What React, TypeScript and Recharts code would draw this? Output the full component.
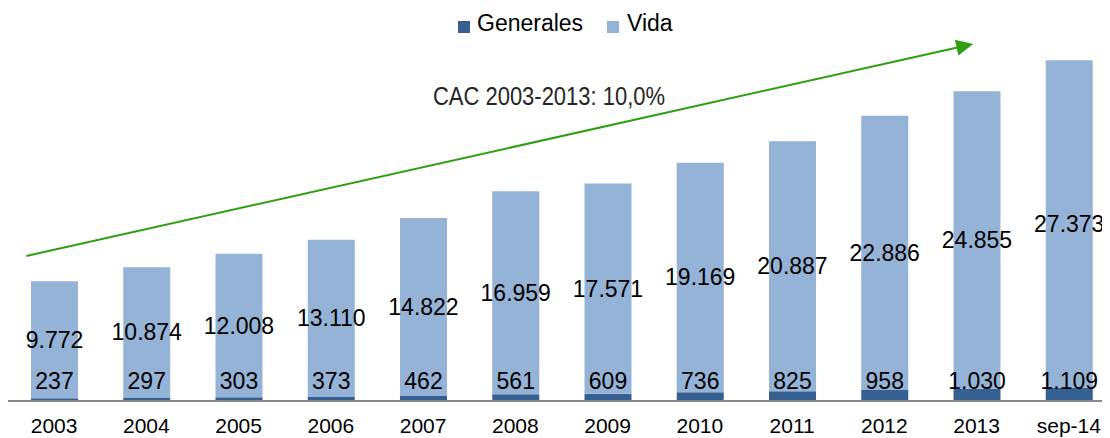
import React from "react";
import { BarChart, Bar, XAxis, YAxis, LabelList, ReferenceLine } from "recharts";

const categories = ["2003", "2004", "2005", "2006", "2007", "2008", "2009", "2010", "2011", "2012", "2013", "sep-14"];
const generales = [237, 297, 303, 373, 462, 561, 609, 736, 825, 958, 1030, 1109];
const vida = [9772, 10874, 12008, 13110, 14822, 16959, 17571, 19169, 20887, 22886, 24855, 27373];
const trendStart = { x: "2003", y: 12640 };
const trendEnd = { x: "2013", y: 29900 };
const cacLabel = "CAC 2003-2013: 10,0%";

const data = categories.map((c, i) => ({ name: c, generales: generales[i], vida: vida[i] }));

const fmt = (v: number) => String(v).replace(/\B(?=(\d{3})+(?!\d))/g, ".");

const COLOR_GEN = "#376092";
const COLOR_VIDA = "#95B3D7";
const GREEN = "#2E9E12";
const FONT = "'Liberation Sans', Arial, sans-serif";

const GenLabel = (props: any) => {
  const { x, y, width, height, value } = props;
  return (
    <text x={x + width / 2} y={y + height - 20} textAnchor="middle" dominantBaseline="central" fontSize={23} fontFamily={FONT} fill="#000">
      {fmt(value)}
    </text>
  );
};

const VidaLabel = (props: any) => {
  const { x, y, width, height, value } = props;
  return (
    <text x={x + width / 2} y={y + height / 2} textAnchor="middle" dominantBaseline="central" fontSize={23} fontFamily={FONT} fill="#000">
      {fmt(value)}
    </text>
  );
};

const ArrowShape = (props: any) => {
  const { x1, y1, x2, y2 } = props;
  if ([x1, y1, x2, y2].some((v) => typeof v !== "number" || isNaN(v))) return null;
  const dx = x2 - x1;
  const dy = y2 - y1;
  const len = Math.sqrt(dx * dx + dy * dy);
  const ux = dx / len;
  const uy = dy / len;
  const ext = 28.5;
  const sx = x1 - ux * ext;
  const sy = y1 - uy * ext;
  const tipX = x2 - ux * 3.5;
  const tipY = y2 - uy * 3.5;
  const headLen = 17;
  const headW = 8;
  const bx = tipX - ux * headLen;
  const by = tipY - uy * headLen;
  const px = -uy;
  const py = ux;
  return (
    <g>
      <line x1={sx} y1={sy} x2={bx + ux * 2} y2={by + uy * 2} stroke={GREEN} strokeWidth={2} />
      <polygon
        points={`${tipX},${tipY} ${bx + px * headW},${by + py * headW} ${bx - px * headW},${by - py * headW}`}
        fill={GREEN}
      />
    </g>
  );
};

export default function App() {
  return (
    <div style={{ position: "relative", width: 1102, height: 430, overflow: "hidden" }}>
      <BarChart width={1107} height={430} data={data} margin={{ top: 34, right: 0, left: 0, bottom: 0 }} barSize={47}>
        <XAxis
          dataKey="name"
          axisLine={{ stroke: "#868686", strokeWidth: 2 }}
          tickLine={false}
          tickSize={0}
          tickMargin={17}
          height={37}
          interval={0}
          tick={{ fontSize: 21, fontFamily: FONT, fill: "#000" }}
        />
        <YAxis hide domain={[0, 30000]} />
        <Bar dataKey="generales" stackId="a" fill={COLOR_GEN} isAnimationActive={false}>
          <LabelList dataKey="generales" content={GenLabel} />
        </Bar>
        <Bar dataKey="vida" stackId="a" fill={COLOR_VIDA} isAnimationActive={false}>
          <LabelList dataKey="vida" content={VidaLabel} />
        </Bar>
        <ReferenceLine segment={[trendStart, trendEnd]} ifOverflow="visible" shape={ArrowShape} />
      </BarChart>
      <svg width={1102} height={430} style={{ position: "absolute", left: 0, top: 0, pointerEvents: "none" }}>
        <rect x={450} y={13} width={12} height={12} fill={COLOR_GEN} />
        <text x={469} y={22.7} fontSize={23} fontFamily={FONT} fill="#000">Generales</text>
        <rect x={599} y={13} width={12} height={12} fill={COLOR_VIDA} />
        <text x={619} y={22.7} fontSize={23} fontFamily={FONT} fill="#000">Vida</text>
        <text x={425} y={97} fontSize={26} fontFamily="'Liberation Sans Narrow', 'Arial Narrow', sans-serif" fill="#262626" textLength={232} lengthAdjust="spacingAndGlyphs">{cacLabel}</text>
      </svg>
    </div>
  );
}
